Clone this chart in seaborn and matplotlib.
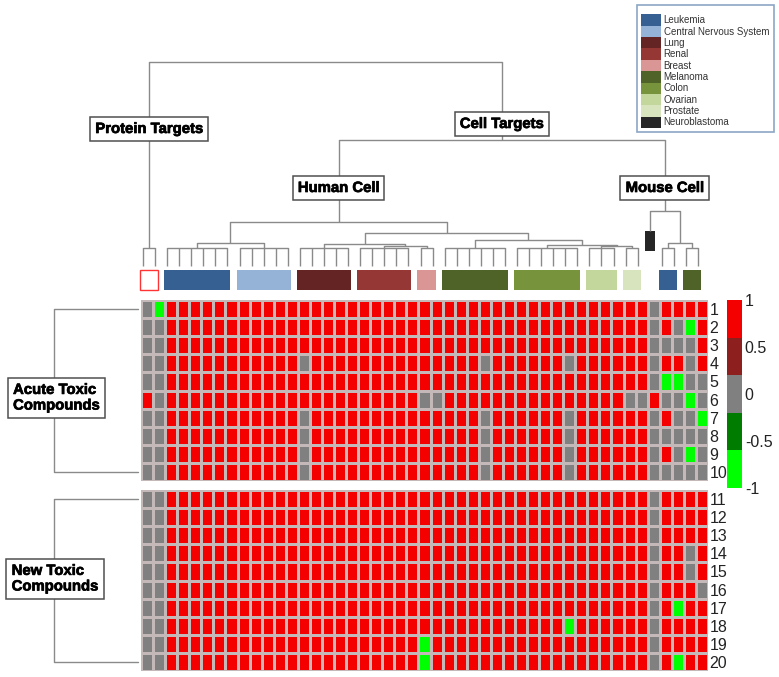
import matplotlib
matplotlib.use("Agg")
import numpy as np
import pandas as pd
import matplotlib.pyplot as plt
import matplotlib.patheffects as pe
from matplotlib.colors import ListedColormap
from matplotlib.patches import Patch, Rectangle
import seaborn as sns

sns.set_style("white")
plt.rcParams["font.family"] = ["Liberation Sans", "DejaVu Sans"]

W, H = 779, 677

# heatmap cells: '+' = 1, '0' = 0, '-' = -1 ('|' only separates column groups)
acute_rows = [
    "0-|++++++|+++++|+++++|+++++|++|++++++|++++++|+++|++|0|++|++",
    "00|++++++|+++++|+++++|+++++|++|++++++|++++++|+++|++|0|+0|-+",
    "00|++++++|+++++|+++++|+++++|++|++++++|++++++|+++|++|0|00|0+",
    "00|++++++|+++++|0++++|+++++|++|+++0++|++++0+|+++|++|0|++|0+",
    "00|++++++|+++++|+++++|+++++|++|++++++|++++++|+++|++|0|--|00",
    "+0|++++++|+++++|+++++|+++++|00|++++++|++++++|+++|00|+|00|-0",
    "00|++++++|+++++|0++++|+++++|++|+++0++|++++0+|+++|++|0|+0|0-",
    "00|++++++|+++++|0++++|+++++|++|+++0++|++++0+|+++|++|0|00|00",
    "00|++++++|+++++|0++++|+++++|++|+++0++|++++0+|+++|++|0|+0|-0",
    "00|++++++|+++++|0++++|+++++|++|+++0++|++++0+|+++|++|0|00|00",
]
new_rows = [
    "00|++++++|+++++|+++++|+++++|++|++++++|++++++|+++|++|0|++|++",
    "00|++++++|+++++|+++++|+++++|++|++++++|++++++|+++|++|0|++|++",
    "00|++++++|+++++|+++++|+++++|++|++++++|++++++|+++|++|0|++|++",
    "00|++++++|+++++|+++++|+++++|++|++++++|++++++|+++|++|0|++|0+",
    "00|++++++|+++++|+++++|+++++|++|++++++|++++++|+++|++|0|++|0+",
    "00|++++++|+++++|+++++|+++++|++|++++++|++++++|+++|++|0|++|+0",
    "00|++++++|+++++|+++++|+++++|++|++++++|++++++|+++|++|0|+-|++",
    "00|++++++|+++++|+++++|+++++|++|++++++|++++-+|+++|++|0|++|++",
    "00|++++++|+++++|+++++|+++++|-+|++++++|++++++|+++|++|0|++|++",
    "00|++++++|+++++|+++++|+++++|-+|++++++|++++++|+++|++|0|+-|++",
]
acute_labels = ["1", "2", "3", "4", "5", "6", "7", "8", "9", "10"]
new_labels = ["11", "12", "13", "14", "15", "16", "17", "18", "19", "20"]

cbar_ticks = [-1, -0.5, 0, 0.5, 1]
cbar_ticklabels = ["-1", "-0.5", "0", "0.5", "1"]
cbar_colors = ["#00ff00", "#007d00", "#808080", "#8e1f1f", "#f50000"]

tissues = ["Leukemia", "Central Nervous System", "Lung", "Renal", "Breast",
           "Melanoma", "Colon", "Ovarian", "Prostate", "Neuroblastoma"]
tissue_colors = ["#376092", "#95b3d7", "#632423", "#953735", "#d99694",
                 "#4f6228", "#77933c", "#c3d69b", "#d7e4bd", "#262626"]

# columns of each group under the column dendrogram
cols_protein = [0, 1]
cols_leukemia = [2, 3, 4, 5, 6, 7]
cols_cns = [8, 9, 10, 11, 12]
cols_lung = [13, 14, 15, 16, 17]
cols_renal = [18, 19, 20, 21, 22]
cols_breast = [23, 24]
cols_melanoma = [25, 26, 27, 28, 29, 30]
cols_colon = [31, 32, 33, 34, 35, 36]
cols_ovarian = [37, 38, 39]
cols_prostate = [40, 41]
col_neuro = 42
cols_mouse_leuk = [43, 44]
cols_mouse_mel = [45, 46]

col_boxes = [
    (cols_leukemia, "Leukemia"), (cols_cns, "Central Nervous System"),
    (cols_lung, "Lung"), (cols_renal, "Renal"), (cols_breast, "Breast"),
    (cols_melanoma, "Melanoma"), (cols_colon, "Colon"), (cols_ovarian, "Ovarian"),
    (cols_prostate, "Prostate"), (cols_mouse_leuk, "Leukemia"),
    (cols_mouse_mel, "Melanoma"),
]

# dendrogram: (merge height, name, children)
tree = (204, None, [
    (18, "Protein Targets", cols_protein),
    (126, "Cell Targets", [
        (44, "Human Cell", [
            (23, None, [(18, None, cols_leukemia), (18, None, cols_cns)]),
            (33, None, [
                (22, None, [(18, None, cols_lung),
                            (20, None, [(18, None, cols_renal), (18, None, cols_breast)])]),
                (26, None, [(18, None, cols_melanoma),
                            (21, None, [(18, None, cols_colon),
                                        (20, None, [(18, None, cols_ovarian),
                                                    (18, None, cols_prostate)])])]),
            ]),
        ]),
        (55, "Mouse Cell", [col_neuro,
                            (23, None, [(18, None, cols_mouse_leuk),
                                        (18, None, cols_mouse_mel)])]),
    ]),
])
leaf_base = {col_neuro: 35}
label_height = {"Protein Targets": 137, "Cell Targets": 142,
                "Human Cell": 78, "Mouse Cell": 78}


def to_matrix(rows):
    vals = {"+": 1, "0": 0, "-": -1}
    return pd.DataFrame([[vals[c] for c in r.replace("|", "")] for r in rows])


def px(x0, y0, x1, y1):
    return [x0 / W, 1 - y1 / H, (x1 - x0) / W, (y1 - y0) / H]


fig = plt.figure(figsize=(W / 100, H / 100), dpi=100)
ax_den = fig.add_axes(px(137, 55, 704, 292))
ax1 = fig.add_axes(px(141, 300, 708, 481))
ax2 = fig.add_axes(px(141, 490, 708, 671))
ax_cb = fig.add_axes(px(727, 300, 742, 488))
ax_l1 = fig.add_axes(px(0, 300, 141, 481))
ax_l2 = fig.add_axes(px(0, 490, 141, 671))

cmap = ListedColormap(cbar_colors)
grid = dict(cmap=cmap, vmin=-1, vmax=1, linewidths=0.8, linecolor="#c4b8b8",
            xticklabels=False)
sns.heatmap(to_matrix(acute_rows), ax=ax1, cbar_ax=ax_cb,
            yticklabels=acute_labels, **grid)
sns.heatmap(to_matrix(new_rows), ax=ax2, cbar=False,
            yticklabels=new_labels, **grid)
for ax in (ax1, ax2):
    ax.yaxis.tick_right()
    ax.tick_params(axis="y", length=0, pad=1, labelsize=11.5, labelrotation=0,
                   labelcolor="#222222")
    ax.set_xlabel("")
    ax.set_ylabel("")

cbar = ax1.collections[0].colorbar
cbar.outline.set_visible(False)
cbar.set_ticks(cbar_ticks, labels=cbar_ticklabels)
ax_cb.tick_params(length=0, labelsize=11.5, labelcolor="#222222", pad=2)

# column dendrogram
line_c = "#8a8a8a"
node_x = {}


def draw(node):
    if isinstance(node, int):
        return node + 0.5, leaf_base.get(node, 0)
    h, name, kids = node
    pts = [draw(k) for k in kids]
    xs = [p[0] for p in pts]
    for x, y in pts:
        ax_den.plot([x, x], [y, h], color=line_c, lw=1.0, solid_capstyle="butt")
    ax_den.plot([min(xs), max(xs)], [h, h], color=line_c, lw=1.0)
    x = (min(xs) + max(xs)) / 2
    if name:
        node_x[name] = x
    return x, h


draw(tree)
box_style = dict(boxstyle="square,pad=0.35", fc="white", ec="#505050", lw=1.1)
heavy = [pe.Stroke(linewidth=0.5, foreground="black"), pe.Normal()]
label_font = dict(family="Liberation Sans", fontweight="bold", fontsize=10.7,
                  color="black", bbox=box_style, zorder=5, path_effects=heavy)
for name, hgt in label_height.items():
    ax_den.text(node_x[name], hgt, name, ha="center", va="center", **label_font)

color_of = dict(zip(tissues, tissue_colors))
ax_den.add_patch(Rectangle((cols_protein[0] + 0.25, -24), len(cols_protein) - 0.5, 20,
                           fc="white", ec="#ff3333", lw=1.0))
for cols, tissue in col_boxes:
    ax_den.add_patch(Rectangle((cols[0] + 0.25, -24), len(cols) - 0.5, 20,
                               fc=color_of[tissue], ec="none"))
ax_den.add_patch(Rectangle((col_neuro + 0.1, 15), 0.8, 20,
                           fc=color_of["Neuroblastoma"], ec="none"))
ax_den.set_xlim(0, 47)
ax_den.set_ylim(-26, 211)
ax_den.axis("off")

# row brackets
for ax, text, ty, tx in ((ax_l1, "Acute Toxic\nCompounds", 5.4, 0.40),
                         (ax_l2, "New Toxic\nCompounds", 4.9, 0.39)):
    ax.plot([0.98, 0.38, 0.38, 0.98], [0.5, 0.5, 9.5, 9.5], color=line_c, lw=1.0)
    ax.text(tx, ty, text, ha="center", va="center", multialignment="left",
            linespacing=1.15, **label_font)
    ax.set_xlim(0, 1)
    ax.set_ylim(10, 0)
    ax.axis("off")

handles = [Patch(fc=c, ec="none", label=t) for t, c in zip(tissues, tissue_colors)]
leg = fig.legend(handles=handles, loc="upper left", bbox_to_anchor=(637 / W, 1 - 5 / H),
                 fontsize=7.0, frameon=True, fancybox=False, edgecolor="#7090b8",
                 handlelength=2.05, handleheight=1.42, handletextpad=0.25,
                 labelspacing=0, borderpad=0.45, borderaxespad=0,
                 title=" ", title_fontsize=4)
leg.get_frame().set_linewidth(1.2)
for t in leg.get_texts():
    t.set_color("#333333")

fig.savefig("out.png", dpi=100)
